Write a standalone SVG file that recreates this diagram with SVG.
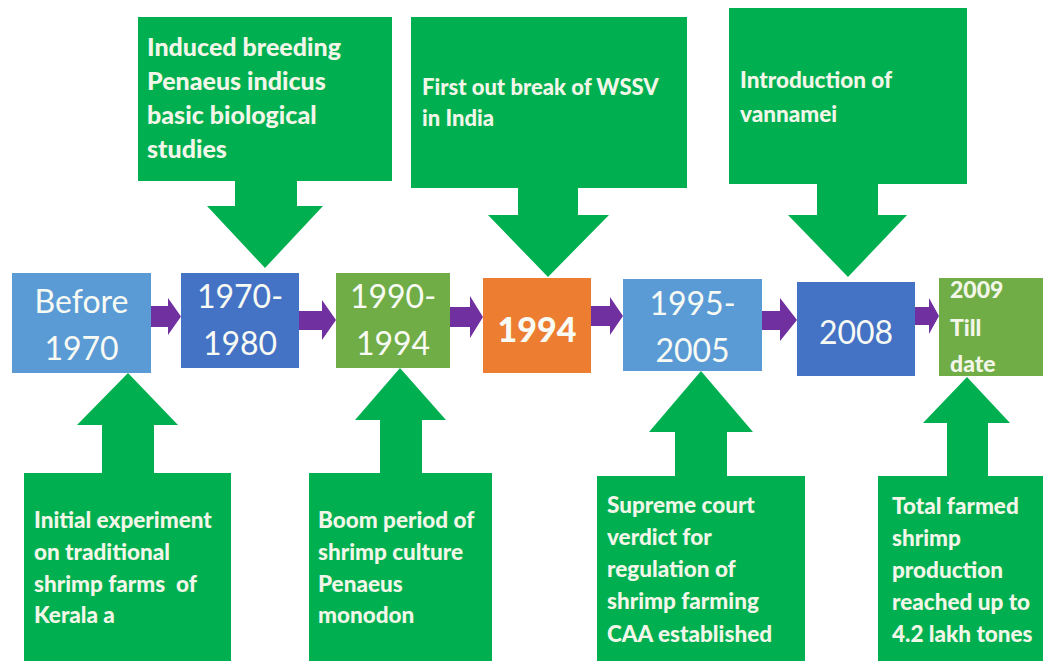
<svg xmlns="http://www.w3.org/2000/svg" width="1043" height="661" viewBox="0 0 1043 661">
<style>
.bg{fill:#ffffff}
.call{fill:#00B050}
.ct{font-family:Lato,"Liberation Sans",sans-serif;font-weight:900;fill:#F2F6E8}
.yr{font-family:Lato,"Liberation Sans",sans-serif;font-size:32px;fill:#F8FAF4;text-anchor:middle}
.lb{fill:#5B9BD5}
.db{fill:#4472C4}
.gr{fill:#70AD47}
.or{fill:#ED7D31}
.pa{fill:#7030A0}
</style>
<rect class="bg" x="0" y="0" width="1043" height="661"/>

<g id="connectors">
  <polygon class="pa" points="151,306 168,306 168,298 181,316.5 168,335 168,327 151,327"/>
  <polygon class="pa" points="299,311 322,311 322,300 336,320 322,340 322,330 299,330"/>
  <polygon class="pa" points="450,307 470,307 470,296 483,317 470,338 470,327 450,327"/>
  <polygon class="pa" points="591,306 610,306 610,297 623,316 610,335 610,326 591,326"/>
  <polygon class="pa" points="762,311 780,311 780,298 797,320 780,341 780,330 762,330"/>
  <polygon class="pa" points="915,307 929,307 929,298 939,316 929,334 929,325 915,325"/>
</g>

<g id="node-before1970">
  <rect class="lb" x="12" y="273" width="139" height="100"/>
  <text class="yr" x="81.5" y="313">Before</text>
  <text class="yr" x="81.5" y="360">1970</text>
</g>
<g id="node-1970-1980">
  <rect class="db" x="181" y="273" width="118" height="95"/>
  <text class="yr" x="240" y="308">1970-</text>
  <text class="yr" x="240" y="355">1980</text>
</g>
<g id="node-1990-1994">
  <rect class="gr" x="336" y="273" width="114" height="95"/>
  <text class="yr" x="393" y="308">1990-</text>
  <text class="yr" x="393" y="355">1994</text>
</g>
<g id="node-1994">
  <rect class="or" x="483" y="278" width="108" height="95"/>
  <text class="yr" x="537" y="342" style="font-weight:900;font-size:34px">1994</text>
</g>
<g id="node-1995-2005">
  <rect class="lb" x="623" y="279" width="139" height="92"/>
  <text class="yr" x="692.5" y="315">1995-</text>
  <text class="yr" x="692.5" y="362">2005</text>
</g>
<g id="node-2008">
  <rect class="db" x="797" y="282" width="118" height="94"/>
  <text class="yr" x="856" y="344">2008</text>
</g>
<g id="node-2009">
  <rect class="gr" x="939" y="278" width="110" height="98"/>
  <text class="ct" x="950" y="298" font-size="23">2009</text>
  <text class="ct" x="950" y="336" font-size="23">Till</text>
  <text class="ct" x="950" y="372" font-size="23">date</text>
</g>

<g id="callout-induced-breeding">
  <polygon class="call" points="138,17 392,17 392,181 297,181 297,206 323,206 265,268 207,206 235,206 235,181 138,181"/>
  <text class="ct" x="147" y="56" font-size="25">Induced breeding</text>
  <text class="ct" x="147" y="90" font-size="25">Penaeus indicus</text>
  <text class="ct" x="147" y="124" font-size="25">basic biological</text>
  <text class="ct" x="147" y="158" font-size="25">studies</text>
</g>
<g id="callout-wssv">
  <polygon class="call" points="411,17 687,17 687,188 578,188 578,215 609,215 548,277 488,215 518,215 518,188 411,188"/>
  <text class="ct" x="422" y="95" font-size="22">First out break of WSSV</text>
  <text class="ct" x="422" y="126" font-size="22">in India</text>
</g>
<g id="callout-vannamei">
  <polygon class="call" points="729,8 967,8 967,184 878,184 878,215 907,215 848,277 788,215 817,215 817,184 729,184"/>
  <text class="ct" x="740" y="88" font-size="22.5">Introduction of</text>
  <text class="ct" x="740" y="122" font-size="22.5">vannamei</text>
</g>

<g id="callout-initial-experiment">
  <polygon class="call" points="24,661 24,473 102,473 102,425 77,425 128,373 178,425 154,425 154,473 231,473 231,661"/>
  <text class="ct" x="34" y="528" font-size="22.5">Initial experiment</text>
  <text class="ct" x="34" y="560" font-size="22.5">on traditional</text>
  <text class="ct" x="34" y="592" font-size="22.5" xml:space="preserve">shrimp farms  of</text>
  <text class="ct" x="34" y="623" font-size="22.5">Kerala a</text>
</g>
<g id="callout-boom-period">
  <polygon class="call" points="309,661 309,473 380,473 380,420 355,420 400,368 446,420 422,420 422,473 492,473 492,661"/>
  <text class="ct" x="318" y="528" font-size="22.5">Boom period of</text>
  <text class="ct" x="318" y="560" font-size="22.5">shrimp culture</text>
  <text class="ct" x="318" y="592" font-size="22.5">Penaeus</text>
  <text class="ct" x="318" y="623" font-size="22.5">monodon</text>
</g>
<g id="callout-supreme-court">
  <polygon class="call" points="597,661 597,476 675,476 675,432 649,432 701,371 753,432 727,432 727,476 805,476 805,661"/>
  <text class="ct" x="607" y="513" font-size="22.5">Supreme court</text>
  <text class="ct" x="607" y="545" font-size="22.5">verdict for</text>
  <text class="ct" x="607" y="577" font-size="22.5">regulation of</text>
  <text class="ct" x="607" y="609" font-size="22.5">shrimp farming</text>
  <text class="ct" x="607" y="642" font-size="22.5">CAA established</text>
</g>
<g id="callout-total-farmed">
  <polygon class="call" points="878,661 878,476 947,476 947,423 923,423 967,377 1010,423 988,423 988,476 1050,476 1050,661"/>
  <text class="ct" x="892" y="514" font-size="22.5">Total farmed</text>
  <text class="ct" x="892" y="546" font-size="22.5">shrimp</text>
  <text class="ct" x="892" y="578" font-size="22.5">production</text>
  <text class="ct" x="892" y="610" font-size="22.5">reached up to</text>
  <text class="ct" x="892" y="642" font-size="22.5">4.2 lakh tones</text>
</g>
</svg>
